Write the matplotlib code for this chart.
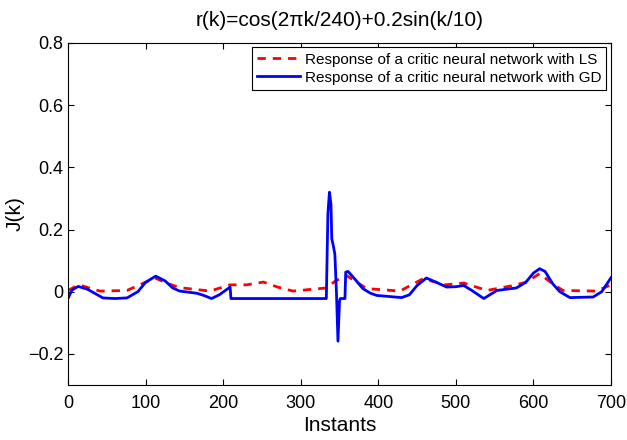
import matplotlib
matplotlib.use('Agg')
import matplotlib.pyplot as plt
import numpy as np

plt.rcParams['font.family'] = ['Liberation Sans', 'DejaVu Sans']

# critic response with least squares (red dashed)
k_ls = [0, 14, 41, 76, 95, 112, 130, 144, 183, 209, 230, 252, 270, 290, 333, 345,
        359, 385, 428, 445, 458, 486, 510, 540, 570, 590, 608, 625, 638, 681, 700]
j_ls = [0.004, 0.022, 0.002, 0.004, 0.025, 0.044, 0.025, 0.013, 0.002, 0.022, 0.022,
        0.031, 0.015, 0.002, 0.012, 0.035, 0.052, 0.010, 0.002, 0.025, 0.042, 0.022,
        0.028, 0.004, 0.018, 0.030, 0.058, 0.025, 0.004, 0.002, 0.022]

# critic response with gradient descent (blue solid)
k_gd = [0, 5, 13, 25, 45, 60, 76, 90, 100, 113, 125, 135, 144, 166, 175, 185, 195,
        209, 210, 333, 335, 337, 339, 340, 342, 344, 346, 348, 350, 351, 357, 358,
        361, 370, 380, 390, 398, 430, 440, 450, 462, 475, 488, 500, 510, 520, 536,
        545, 553, 578, 590, 600, 608, 615, 625, 634, 647, 677, 688, 700]
j_gd = [-0.022, 0.005, 0.017, 0.008, -0.020, -0.022, -0.020, 0.000, 0.030, 0.050,
        0.035, 0.012, 0.002, -0.005, -0.012, -0.022, -0.010, 0.015, -0.022, -0.022,
        0.25, 0.32, 0.28, 0.17, 0.148, 0.12, 0.0, -0.159, -0.03, -0.022, -0.022,
        0.063, 0.065, 0.040, 0.010, -0.005, -0.012, -0.019, -0.010, 0.020, 0.044,
        0.030, 0.015, 0.016, 0.020, 0.005, -0.022, -0.008, 0.004, 0.012, 0.030,
        0.060, 0.074, 0.065, 0.025, 0.000, -0.019, -0.017, 0.000, 0.045]

fig = plt.figure(figsize=(6.27, 4.4), dpi=100)
ax = fig.add_axes([0.1085, 0.125, 0.866, 0.7775])

ax.plot(k_ls, j_ls, 'r--', lw=2, dashes=(3, 2.5),
        label='Response of a critic neural network with LS')
ax.plot(k_gd, j_gd, 'b-', lw=2,
        label='Response of a critic neural network with GD')

ax.set_xlim(0, 700)
ax.set_ylim(-0.3, 0.8)
ax.set_xticks(np.arange(0, 701, 100))
ax.set_yticks([-0.2, 0, 0.2, 0.4, 0.6, 0.8])
ax.set_yticklabels(['\u22120.2', '0', '0.2', '0.4', '0.6', '0.8'])
ax.tick_params(direction='in', top=True, right=True, labelsize=13, length=4)
ax.tick_params(axis='x', pad=7)

ax.set_xlabel('Instants', fontsize=15, labelpad=3)
ax.set_ylabel('J(k)', fontsize=15, labelpad=2)
ax.set_title('r(k)=cos(2\u03c0k/240)+0.2sin(k/10)', fontsize=15, pad=12)

leg = ax.legend(loc='upper right', fontsize=11, fancybox=False, edgecolor='black',
                framealpha=1, borderaxespad=0.3, handlelength=2.8, borderpad=0.35,
                labelspacing=0.25, handletextpad=0.3)
leg.get_frame().set_linewidth(0.8)

fig.savefig('out.png', dpi=100)
